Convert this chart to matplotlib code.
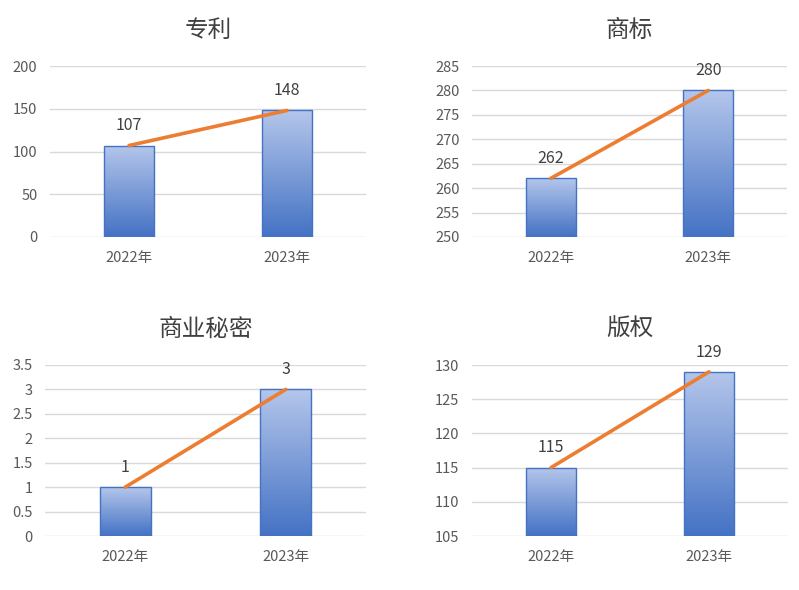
import numpy as np
import matplotlib
matplotlib.use('Agg')
from matplotlib import pyplot as plt
from matplotlib.colors import LinearSegmentedColormap

plt.rcParams['font.family'] = ['Noto Sans CJK SC', 'DejaVu Sans']

years = ['2022年', '2023年']
titles = ['专利', '商标', '商业秘密', '版权']
patent = [107, 148]
trademark = [262, 280]
secret = [1, 3]
copyright_ = [115, 129]
all_values = [patent, trademark, secret, copyright_]

y_ranges = [(0, 200, 50), (250, 285, 5), (0, 3.5, 0.5), (105, 130, 5)]

# axes boxes in pixels (left, right, top, bottom) on the 799x590 canvas
W, H = 799, 590
boxes = [(50, 366, 66, 237), (472, 787, 66, 237),
         (45, 366, 365, 536), (472, 788, 365, 536)]

text_col = '#595959'
grid_col = '#d9d9d9'
bar_dark = '#4472c4'
bar_light = '#b4c6eb'
line_col = '#ed7d31'
grad = LinearSegmentedColormap.from_list('g', [bar_dark, bar_light])

fig = plt.figure(figsize=(W / 100, H / 100), dpi=100)

for k in range(4):
    l, r, t, b = boxes[k]
    ax = fig.add_axes([l / W, 1 - b / H, (r - l) / W, (b - t) / H])
    vals = all_values[k]
    y0, y1, step = y_ranges[k]
    x = np.arange(len(years))

    bars = ax.bar(x, np.array(vals) - y0, bottom=y0, width=0.32,
                  facecolor='none', edgecolor=bar_dark, linewidth=1.0, zorder=3)
    for bar in bars:
        bx, by = bar.get_x(), bar.get_y()
        bw, bh = bar.get_width(), bar.get_height()
        img = ax.imshow(np.linspace(0, 1, 256).reshape(-1, 1), cmap=grad,
                        extent=[bx, bx + bw, by, by + bh], origin='lower',
                        aspect='auto', zorder=2)
        img.set_clip_path(bar)

    ax.plot(x, vals, color=line_col, lw=2.6, solid_capstyle='round', zorder=4)
    for xi, v in zip(x, vals):
        ax.annotate(f'{v:g}', (xi, v), xytext=(0, 8), textcoords='offset points',
                    ha='center', va='bottom', fontsize=11.5, color='#404040')

    ax.set_xlim(-0.5, 1.5)
    ax.set_ylim(y0, y1)
    ticks = np.arange(y0, y1 + step / 2, step)
    ax.set_yticks(ticks)
    ax.set_yticklabels([f'{tv:g}' for tv in ticks])
    ax.set_xticks(x)
    ax.set_xticklabels(years)
    ax.tick_params(length=0, labelsize=10.5, colors=text_col)
    ax.tick_params(axis='x', pad=10)
    ax.tick_params(axis='y', pad=9)
    for s in ax.spines.values():
        s.set_visible(False)
    ax.yaxis.grid(True, color=grid_col, lw=1)
    ax.set_axisbelow(True)
    ax.set_title(titles[k], fontsize=17, color='#404040', pad=21)

fig.savefig('out.png', dpi=100, facecolor='white')
